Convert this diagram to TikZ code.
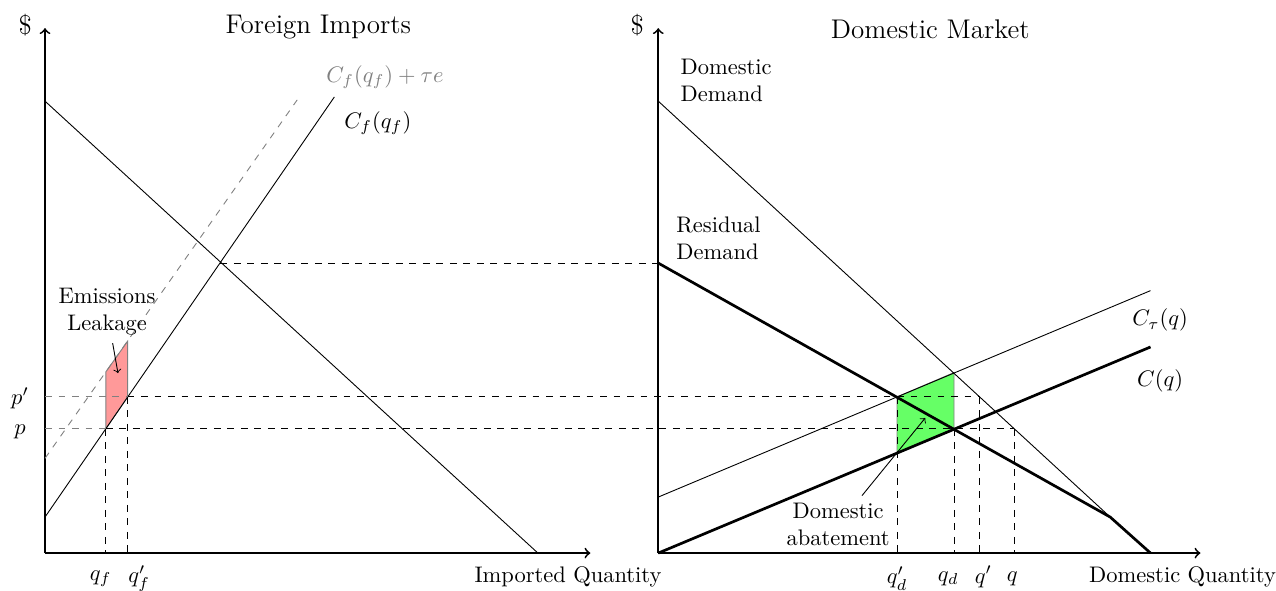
\documentclass[tikz,border=0pt]{standalone}
\usetikzlibrary{calc}
\begin{document}
\begin{tikzpicture}[
        axis/.style={thick,->},
        guide/.style={dashed},
        faintguide/.style={dashed,gray},
        heavy/.style={very thick},
        lbl/.style={align=center}]
    \useasboundingbox (-0.703,-0.578) rectangle (19.23,8.64);
    % foreign imports
    \coordinate (of) at (0,0);
    \coordinate (qf) at (0.95,1.94);
    \coordinate (qfp) at (1.29,2.44);
    \coordinate (eqf) at (2.74,4.53);
    \fill[red!40,draw=gray] (qf) -- (qfp) -- (1.29,3.31) -- (0.95,2.83) -- cycle;
    \draw[axis] (of) -- (0,8.2);
    \draw[axis] (of) -- (8.52,0);
    \draw (0,7.06) -- (7.70,0);
    \draw (0,0.5625) -- (4.52,7.125);
    \draw[faintguide] (0,1.48) -- (3.94,7.08);
    \draw[faintguide] (0,2.44) -- (qfp);
    \draw[faintguide] (0,1.94) -- (qf);
    \draw[guide] (qf) -- (0.95,0);
    \draw[guide] (qfp) -- (1.29,0);
    \node (dollarf) at (-0.31,8.25) {\large \$};
    \node (titlef) at (4.27,8.22) {\large Foreign Imports};
    \node (cf) at (5.20,6.72) {$C_f(q_f)$};
    \node[gray] (cftax) at (5.31,7.44) {$C_f(q_f)+\tau e$};
    \node (pp) at (-0.39,2.42) {$p'$};
    \node (p) at (-0.39,1.90) {$p$};
    \node (qflab) at (0.87,-0.40) {$q_f$};
    \node (qfplab) at (1.47,-0.40) {$q_f'$};
    \node (impq) at (8.17,-0.37) {Imported Quantity};
    \node[lbl] (leak) at (0.97,3.77) {Emissions\\Leakage};
    \draw[->] (leak) -- (1.14,2.81);
    % domestic market
    \coordinate (od) at (9.58,0);
    \coordinate (qdp) at (13.31,2.44);
    \coordinate (qd) at (14.20,1.94);
    \coordinate (qp) at (14.60,2.44);
    \coordinate (qq) at (15.14,1.94);
    \coordinate (kink) at (16.64,0.5625);
    \fill[green!60,draw=gray] (13.31,1.56) -- (qd) -- (14.20,2.82) -- (qdp) -- cycle;
    \draw[guide] (eqf) -- (9.58,4.53);
    \draw[guide] (qfp) -- (qp);
    \draw[guide] (qf) -- (qq);
    \draw[guide] (qdp) -- (13.31,0);
    \draw[guide] (qd) -- (14.20,0);
    \draw[guide] (qp) -- (14.60,0);
    \draw[guide] (qq) -- (15.14,0);
    \draw[axis] (od) -- (9.58,8.2);
    \draw[axis] (od) -- (18.05,0);
    \draw (9.58,7.06) -- (kink);
    \draw[heavy] (9.58,4.53) -- (kink) -- (17.27,0);
    \draw[heavy] (od) -- (17.27,3.22);
    \draw (9.58,0.875) -- (17.27,4.10);
    \node (dollard) at (9.25,8.25) {\large \$};
    \node (titled) at (13.83,8.18) {\large Domestic Market};
    \node[align=left] (ddem) at (10.64,7.39) {Domestic\\Demand};
    \node[align=left] (rdem) at (10.52,4.92) {Residual\\Demand};
    \node (ctau) at (17.42,3.64) {$C_\tau(q)$};
    \node (cq) at (17.42,2.69) {$C(q)$};
    \node (qdplab) at (13.31,-0.40) {$q_d'$};
    \node (qdlab) at (14.11,-0.40) {$q_d$};
    \node (qplab) at (14.66,-0.37) {$q'$};
    \node (qlab) at (15.11,-0.40) {$q$};
    \node (domq) at (17.77,-0.37) {Domestic Quantity};
    \node[lbl] (abate) at (12.39,0.44) {Domestic\\abatement};
    \draw[->] (abate) -- (13.75,2.11);
\end{tikzpicture}
\end{document}
